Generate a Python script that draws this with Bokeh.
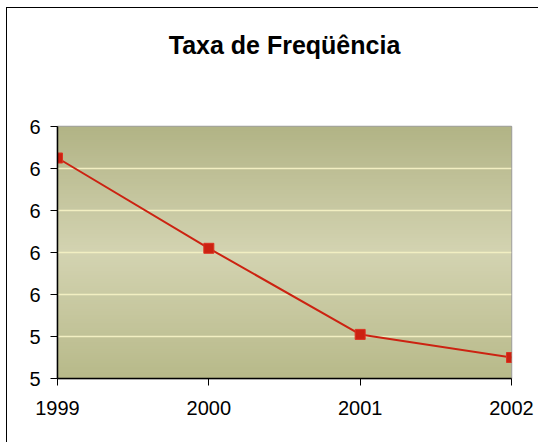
import numpy as np
from bokeh.plotting import figure
from bokeh.models import FixedTicker, Range1d
from bokeh.embed import file_html
from bokeh.resources import INLINE

years = [1999, 2000, 2001, 2002]
taxa = [6.25, 5.82, 5.41, 5.30]
y_ticks = [5.2, 5.4, 5.6, 5.8, 6.0, 6.2, 6.4]
y_tick_labels = ["5", "5", "6", "6", "6", "6", "6"]
x_tick_labels = ["1999", "2000", "2001", "2002"]

p = figure(width=532, height=435, output_backend="svg", toolbar_location=None,
           x_range=Range1d(years[0], years[-1]), y_range=Range1d(y_ticks[0], y_ticks[-1]),
           min_border_left=50, min_border_right=28, min_border_top=118, min_border_bottom=65)
p.styles = {"margin-left": "6px", "margin-top": "7px",
            "border-left": "1px solid black", "border-top": "1px solid black"}

p.title.text = "Taxa de Freqüência"
p.title.text_font = "Liberation Sans"
p.title.text_font_size = "25px"
p.title.text_font_style = "bold"
p.title.text_color = "black"
p.title.align = "center"
p.title.offset = 0
p.title.standoff = 0
p.title.padding = dict(top=0, right=0, bottom=68, left=0)

# vertical gradient background
n = 120
t = np.linspace(0, 1, n)
top = np.array([0xb2, 0xb4, 0x86])
mid = np.array([0xd4, 0xd4, 0xb2])
bot = np.array([0xb8, 0xba, 0x8a])
cols = np.zeros((n, 3))
for i, v in enumerate(t):
    if v < 0.5:
        cols[i] = bot + (mid - bot) * (v / 0.5)
    else:
        cols[i] = mid + (top - mid) * ((v - 0.5) / 0.5)
img = np.zeros((n, 1), dtype=np.uint32)
view = img.view(dtype=np.uint8).reshape((n, 1, 4))
view[:, 0, 0] = cols[:, 0].astype(np.uint8)
view[:, 0, 1] = cols[:, 1].astype(np.uint8)
view[:, 0, 2] = cols[:, 2].astype(np.uint8)
view[:, 0, 3] = 255
p.image_rgba(image=[img], x=years[0], y=y_ticks[0], dw=years[-1] - years[0],
             dh=y_ticks[-1] - y_ticks[0], level="image")

p.line(years, taxa, line_color="#cc2211", line_width=2)
p.scatter(years, taxa, marker="square", size=10, fill_color="#cc2211", line_color="#dd3322")

p.xaxis.ticker = FixedTicker(ticks=years)
p.xaxis.major_label_overrides = {y: s for y, s in zip(years, x_tick_labels)}
p.yaxis.ticker = FixedTicker(ticks=y_ticks)
p.yaxis.major_label_overrides = {v: s for v, s in zip(y_ticks, y_tick_labels)}

for ax in (p.xaxis[0], p.yaxis[0]):
    ax.major_label_text_font = "Liberation Sans"
    ax.major_label_text_font_size = "20px"
    ax.major_label_text_color = "black"
    ax.axis_line_color = "black"
    ax.axis_line_width = 1.5
    ax.major_tick_line_color = "black"
    ax.major_tick_in = 0
    ax.major_tick_out = 7
    ax.minor_tick_line_color = None
p.xaxis.major_label_standoff = 15
p.yaxis.major_label_standoff = 10

p.xgrid.grid_line_color = None
p.ygrid.grid_line_color = "#f2efc2"
p.ygrid.grid_line_width = 1.5
p.grid.level = "underlay"

p.outline_line_color = "#a0a0a0"
p.outline_line_width = 1.5
p.background_fill_color = "#c8c8a0"
p.border_fill_color = "white"

open("out.html", "w").write(file_html(p, INLINE))
